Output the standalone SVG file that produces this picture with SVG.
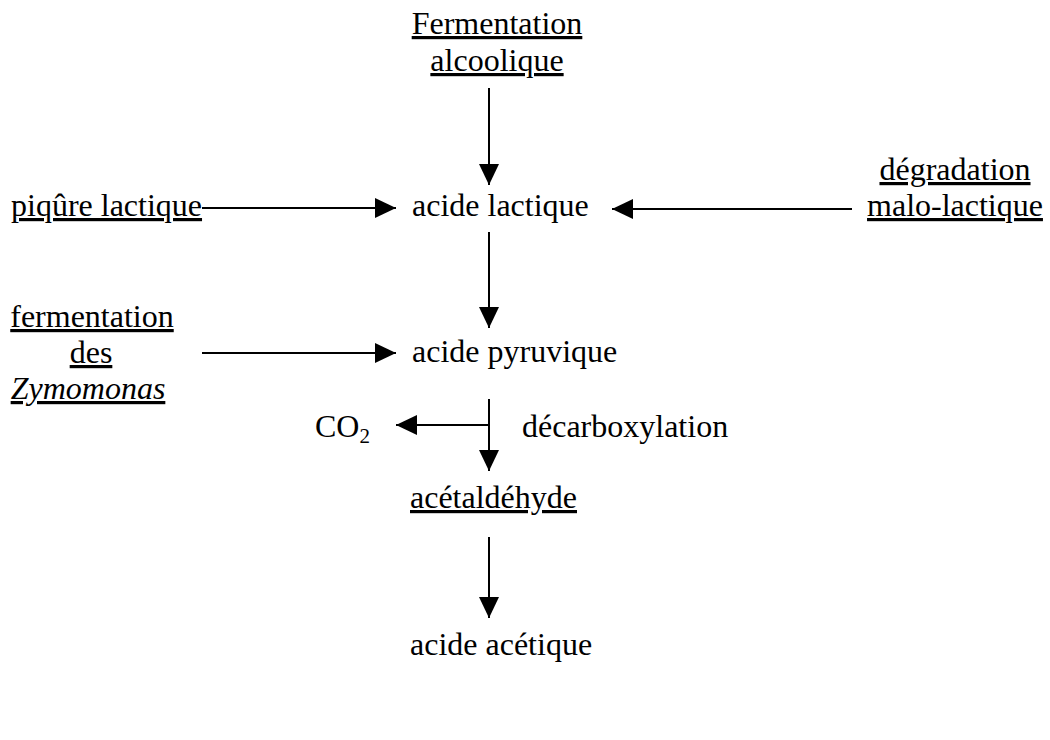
<svg xmlns="http://www.w3.org/2000/svg" width="1050" height="740" viewBox="0 0 1050 740">
<defs>
<marker id="ah" markerUnits="userSpaceOnUse" markerWidth="22" markerHeight="20" refX="21" refY="10" orient="auto">
<path d="M0,0 L21,10 L0,20 Z" fill="#000"/>
</marker>
<style>
text{font-family:"Liberation Serif","Times New Roman",serif;font-size:32px;fill:#000}
.u{text-decoration:underline}
.m{text-anchor:middle}
.conn line{stroke:#000;stroke-width:2;fill:none}
</style>
</defs>
<rect width="1050" height="740" fill="#fff"/>
<g id="fermentation-alcoolique">
<text class="u m" x="497" y="34">Fermentation</text>
<text class="u m" x="497" y="71">alcoolique</text>
</g>
<g id="piqure-lactique"><text class="u" x="11" y="216">piqûre lactique</text></g>
<g id="acide-lactique"><text x="412" y="216">acide lactique</text></g>
<g id="degradation-malo-lactique">
<text class="u m" x="955" y="180">dégradation</text>
<text class="u m" x="955" y="216">malo-lactique</text>
</g>
<g id="fermentation-zymomonas">
<text class="u m" x="92" y="327">fermentation</text>
<text class="u m" x="91" y="363">des</text>
<text class="u m" x="88" y="399" font-style="italic">Zymomonas</text>
</g>
<g id="acide-pyruvique"><text x="412" y="362">acide pyruvique</text></g>
<g id="co2"><text x="315" y="437">CO<tspan font-size="21" dy="6">2</tspan></text></g>
<g id="decarboxylation"><text x="522" y="437">décarboxylation</text></g>
<g id="acetaldehyde"><text class="u" x="410" y="508">acétaldéhyde</text></g>
<g id="acide-acetique"><text x="410" y="655">acide acétique</text></g>
<g class="conn" id="connectors">
<line x1="489" y1="88" x2="489" y2="185" marker-end="url(#ah)"/>
<line x1="202" y1="208" x2="396" y2="208" marker-end="url(#ah)"/>
<line x1="852" y1="209" x2="612" y2="209" marker-end="url(#ah)"/>
<line x1="489" y1="232" x2="489" y2="328" marker-end="url(#ah)"/>
<line x1="202" y1="353" x2="396" y2="353" marker-end="url(#ah)"/>
<line x1="489" y1="399" x2="489" y2="471" marker-end="url(#ah)"/>
<line x1="489" y1="425" x2="396" y2="425" marker-end="url(#ah)"/>
<line x1="489" y1="537" x2="489" y2="618" marker-end="url(#ah)"/>
</g>
</svg>
